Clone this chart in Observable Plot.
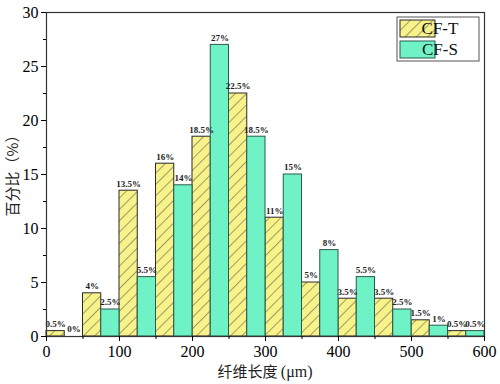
<!DOCTYPE html>
<html><head><meta charset="utf-8">
<script src="https://cdn.jsdelivr.net/npm/d3@7"></script>
<script src="https://cdn.jsdelivr.net/npm/@observablehq/plot@0.6"></script>
<style>
body{margin:0;background:#fff}
#chart{position:relative;width:500px;height:384px}
</style>
</head><body><div id="chart"></div>
<script>
const binWidth = 25;
const binStartsT = [0,50,100,150,200,250,300,350,400,450,500,550];
const valuesT = [0.5,4,13.5,16,18.5,22.5,11,5,3.5,3.5,1.5,0.5];
const binStartsS = [25,75,125,175,225,275,325,375,425,475,525,575];
const valuesS = [0,2.5,5.5,14,27,18.5,15,8,5.5,2.5,1,0.5];
const xTicks = [0,100,200,300,400,500,600];
const xMinorTicks = [50,150,250,350,450,550];
const yTicks = [0,5,10,15,20,25,30];
const yMinorTicks = [2.5,7.5,12.5,17.5,22.5,27.5];
const seriesNames = ["CF-T","CF-S"];
const colorT = "#f7f28a";
const colorS = "#6ff3c6";

const dataT = binStartsT.map((x,i)=>({x1:x,x2:x+binWidth,y:valuesT[i],label:valuesT[i]+"%"}));
const dataS = binStartsS.map((x,i)=>({x1:x,x2:x+binWidth,y:valuesS[i],label:valuesS[i]+"%"}));

const serif = "'Liberation Serif','Times New Roman',serif";
const cjk = "'Noto Sans CJK SC',sans-serif";

const plot = Plot.plot({
  width: 500, height: 384,
  marginLeft: 46, marginRight: 16, marginTop: 12, marginBottom: 48,
  style: {fontFamily: serif, fontSize: "15px", color: "#000", background: "#fff"},
  x: {domain: [0,600]},
  y: {domain: [0,30]},
  marks: [
    Plot.rectY(dataT, {x1:"x1", x2:"x2", y:"y", fill:"url(#hatchT)", stroke:"#2a2a2a", strokeWidth:1}),
    Plot.rectY(dataS.filter(d=>d.y>0), {x1:"x1", x2:"x2", y:"y", fill:colorS, stroke:"#2b5a4c", strokeWidth:1}),
    Plot.text(dataT, {x:d=>(d.x1+d.x2)/2, y:"y", text:"label", dy:-7, fontSize:9, fontWeight:"bold", fill:"#222"}),
    Plot.text(dataS, {x:d=>(d.x1+d.x2)/2, y:"y", text:"label", dy:-7, fontSize:9, fontWeight:"bold", fill:"#222"}),
    Plot.frame({stroke:"#333", strokeWidth:1.2}),
    Plot.axisX({ticks: xTicks, tickSize: 5, tickPadding: 4, fontSize: 16, label: null}),
    Plot.axisX({ticks: xMinorTicks, tickSize: 3, text: null, label: null}),
    Plot.axisY({ticks: yTicks, tickSize: 5, tickPadding: 3, fontSize: 16, label: null}),
    Plot.axisY({ticks: yMinorTicks, tickSize: 3, text: null, label: null})
  ]
});

const svg = d3.select(plot);
const defs = svg.insert("defs", ":first-child");
const pat = defs.append("pattern").attr("id","hatchT").attr("patternUnits","userSpaceOnUse")
  .attr("width",8).attr("height",8).attr("patternTransform","rotate(45)");
pat.append("rect").attr("width",8).attr("height",8).attr("fill",colorT);
pat.append("line").attr("x1",0).attr("y1",0).attr("x2",0).attr("y2",8).attr("stroke","#333").attr("stroke-width",0.9);

// legend
const lg = svg.append("g").attr("font-family", serif);
lg.append("rect").attr("x",397).attr("y",17).attr("width",82).attr("height",44).attr("fill","#fff").attr("stroke","#555").attr("stroke-width",1);
const swatches = [{name:seriesNames[0], fill:"url(#hatchT)", stroke:"#2a2a2a"},{name:seriesNames[1], fill:colorS, stroke:"#2b5a4c"}];
swatches.forEach((s,i)=>{
  lg.append("rect").attr("x",400).attr("y",20+i*21).attr("width",35).attr("height",17).attr("fill",s.fill).attr("stroke",s.stroke);
  lg.append("text").attr("x",440).attr("y",34+i*21).attr("font-size",17).attr("fill","#111").text(s.name);
});

// axis titles
svg.append("text").attr("transform","translate(18,172) rotate(-90)").attr("text-anchor","middle")
  .attr("font-family",cjk).attr("font-size",15).attr("fill","#222").text("百分比（%）");
const xt = svg.append("text").attr("x",265).attr("y",377).attr("text-anchor","middle").attr("font-size",15).attr("fill","#222");
xt.append("tspan").attr("font-family",cjk).text("纤维长度 ");
xt.append("tspan").attr("font-family",serif).attr("font-size",16).text("(μm)");

document.getElementById("chart").appendChild(plot);
</script>
</body></html>
